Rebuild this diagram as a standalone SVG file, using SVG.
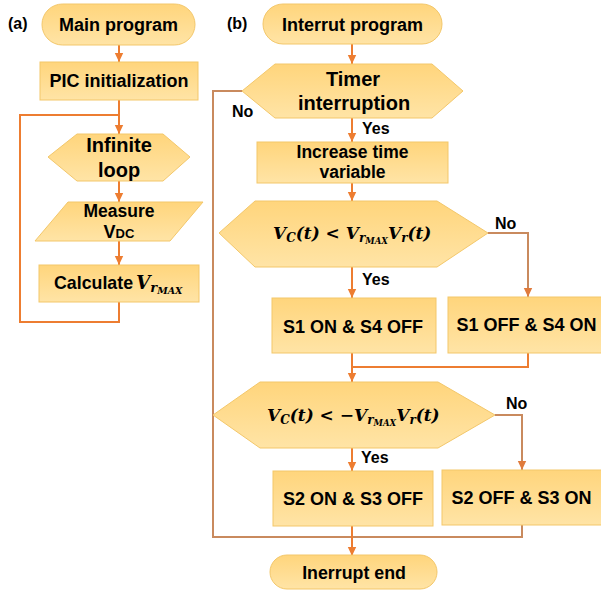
<svg xmlns="http://www.w3.org/2000/svg" width="601" height="590" viewBox="0 0 601 590">
<defs>
<linearGradient id="g" x1="0" y1="0" x2="0" y2="1">
<stop offset="0" stop-color="#FFD57C"/>
<stop offset="1" stop-color="#FFE4A6"/>
</linearGradient>
<marker id="ah" markerUnits="userSpaceOnUse" markerWidth="10" markerHeight="10" viewBox="0 0 10 10" refX="9" refY="5" orient="auto">
<path d="M0,0.8 L9,5 L0,9.2 Z" fill="#ED7D31"/>
</marker>
<marker id="ahb" markerUnits="userSpaceOnUse" markerWidth="10" markerHeight="10" viewBox="0 0 10 10" refX="9" refY="5" orient="auto">
<path d="M0,0.8 L9,5 L0,9.2 Z" fill="#E07B3C"/>
</marker>
</defs>
<style>
.n{fill:url(#g);stroke:#F3C76A;stroke-width:1}
.t{font-family:"Liberation Sans",Arial,sans-serif;font-weight:bold;fill:#000;text-anchor:middle}
.l{font-family:"Liberation Sans",Arial,sans-serif;font-weight:bold;fill:#000}
.m{font-family:"DejaVu Serif","Liberation Serif",serif;font-weight:bold;font-style:italic;fill:#000}
.c{fill:none;stroke:#ED7D31;stroke-width:2}
.b{fill:none;stroke:#C98A5E;stroke-width:2}
</style>
<rect width="601" height="590" fill="#fff"/>

<g id="connectors">
<line class="c" x1="119" y1="45" x2="119" y2="62" marker-end="url(#ah)"/>
<line class="c" x1="119" y1="100" x2="119" y2="134" marker-end="url(#ah)"/>
<line class="c" x1="119" y1="181" x2="119" y2="202" marker-end="url(#ah)"/>
<line class="c" x1="119" y1="241" x2="119" y2="265" marker-end="url(#ah)"/>
<polyline class="c" points="119,302 119,322 20,322 20,115 119,115"/>

<line class="c" x1="352" y1="44" x2="352" y2="64" marker-end="url(#ah)"/>
<line class="c" x1="352" y1="118" x2="352" y2="142" marker-end="url(#ah)"/>
<line class="c" x1="352" y1="183" x2="352" y2="201" marker-end="url(#ah)"/>
<line class="c" x1="352" y1="267" x2="352" y2="298" marker-end="url(#ah)"/>
<polyline class="b" points="488,233 528,233 528,297" marker-end="url(#ahb)"/>
<line class="c" x1="352" y1="353" x2="352" y2="382" marker-end="url(#ah)"/>
<polyline class="c" points="528,353 528,367 352,367"/>
<line class="c" x1="352" y1="448" x2="352" y2="471" marker-end="url(#ah)"/>
<polyline class="b" points="495,415 522,415 522,470" marker-end="url(#ahb)"/>
<polyline class="b" points="242,91 213,91 213,537 522,537 522,525"/>
<line class="c" x1="352" y1="526" x2="352" y2="556" marker-end="url(#ah)"/>
</g>

<text class="l" x="8" y="29" font-size="16">(a)</text>
<text class="l" x="227" y="29" font-size="16">(b)</text>

<g id="main-program">
<rect class="n" x="42" y="4" width="153" height="41" rx="20.5"/>
<text class="t" x="118.5" y="31" font-size="18">Main program</text>
</g>
<g id="pic-init">
<rect class="n" x="40" y="62" width="158" height="38"/>
<text class="t" x="119" y="87" font-size="18">PIC initialization</text>
</g>
<g id="infinite-loop">
<polygon class="n" points="48,157 77,134 163,134 190,157 163,181 77,181"/>
<text class="t" x="119" y="152" font-size="20">Infinite</text>
<text class="t" x="119" y="177" font-size="20">loop</text>
</g>
<g id="measure">
<polygon class="n" points="68,202 203,202 170,241 35,241"/>
<text class="t" x="119" y="217" font-size="17.5">Measure</text>
<text class="t" x="119" y="238" font-size="18">V<tspan font-size="13">DC</tspan></text>
</g>
<g id="calculate">
<rect class="n" x="39" y="265" width="160" height="37"/>
<text class="l" x="54" y="289" font-size="17.8">Calculate</text>
<text class="m" x="136" y="289" font-size="18.5">V<tspan dy="3" font-size="13">r</tspan><tspan dy="2" font-size="9.5">MAX</tspan></text>
</g>

<g id="interrupt-program">
<rect class="n" x="263" y="4" width="179" height="40" rx="20"/>
<text class="t" x="352.5" y="31" font-size="18">Interrut program</text>
</g>
<g id="timer-interruption">
<polygon class="n" points="242,91 275,64 432,64 463,91 432,118 275,118"/>
<text class="t" x="353" y="86" font-size="20">Timer</text>
<text class="t" x="354" y="110" font-size="20">interruption</text>
</g>
<text class="l" x="232" y="117" font-size="16">No</text>
<text class="l" x="362" y="134" font-size="16">Yes</text>
<g id="increase-time">
<rect class="n" x="257" y="142" width="191" height="41"/>
<text class="t" x="352.5" y="158" font-size="17.5">Increase time</text>
<text class="t" x="352.5" y="178" font-size="17.5">variable</text>
</g>
<g id="decision-1">
<polygon class="n" points="219,233 255,201 437,201 488,233 437,267 255,267"/>
<text class="m" x="273" y="239" font-size="17">V<tspan dy="3" font-size="12">C</tspan><tspan dy="-3">(t) &lt; V</tspan><tspan dy="3" font-size="12">r</tspan><tspan dy="2" font-size="8.5">MAX</tspan><tspan dy="-5">V</tspan><tspan dy="3" font-size="12">r</tspan><tspan dy="-3">(t)</tspan></text>
</g>
<text class="l" x="495" y="229" font-size="16">No</text>
<text class="l" x="362" y="285" font-size="16">Yes</text>
<g id="s1on-s4off">
<rect class="n" x="272" y="298" width="164" height="55"/>
<text class="t" x="353" y="333" font-size="18">S1 ON &amp; S4 OFF</text>
</g>
<g id="s1off-s4on">
<rect class="n" x="448" y="297" width="156" height="56"/>
<text class="t" x="526.5" y="331" font-size="18">S1 OFF &amp; S4 ON</text>
</g>
<g id="decision-2">
<polygon class="n" points="213,415 260,382 438,382 495,415 438,448 260,448"/>
<text class="m" x="267" y="421" font-size="17">V<tspan dy="3" font-size="12">C</tspan><tspan dy="-3">(t) &lt; −V</tspan><tspan dy="3" font-size="12">r</tspan><tspan dy="2" font-size="8.5">MAX</tspan><tspan dy="-5">V</tspan><tspan dy="3" font-size="12">r</tspan><tspan dy="-3">(t)</tspan></text>
</g>
<text class="l" x="506" y="409" font-size="16">No</text>
<text class="l" x="361" y="463" font-size="16">Yes</text>
<g id="s2on-s3off">
<rect class="n" x="273" y="471" width="160" height="55"/>
<text class="t" x="353" y="505" font-size="18">S2 ON &amp; S3 OFF</text>
</g>
<g id="s2off-s3on">
<rect class="n" x="442" y="470" width="162" height="55"/>
<text class="t" x="521.5" y="504" font-size="18">S2 OFF &amp; S3 ON</text>
</g>
<g id="interrupt-end">
<rect class="n" x="270" y="555" width="167" height="34" rx="17"/>
<text class="t" x="354" y="579" font-size="17.8">Inerrupt end</text>
</g>
</svg>
